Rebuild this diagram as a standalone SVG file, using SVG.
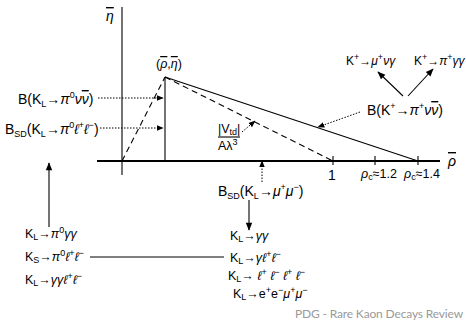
<svg xmlns="http://www.w3.org/2000/svg" width="466" height="324" viewBox="0 0 466 324">
<defs>
<marker id="ah" viewBox="0 0 10 10" refX="9" refY="5" markerWidth="7" markerHeight="7" orient="auto" markerUnits="userSpaceOnUse"><path d="M0,1 L10,5 L0,9 Z" fill="#000"/></marker>
<marker id="ahs" viewBox="0 0 10 10" refX="9" refY="5" markerWidth="10" markerHeight="8" orient="auto" markerUnits="userSpaceOnUse"><path d="M0,1 L10,5 L0,9 Z" fill="#000"/></marker>
</defs>
<style>
text{font-family:"Liberation Sans",Arial,sans-serif;fill:#000}
.l{font-size:14px}
.s{font-size:12.5px}
.k{font-size:12px}
.g{font-style:italic}
.sm{font-size:9px}
.ov{text-decoration:overline}
.ln{stroke:#000;fill:none;stroke-width:1.1}
.dot{stroke:#000;fill:none;stroke-width:1;stroke-dasharray:1.5 1.5}
.dash{stroke:#000;fill:none;stroke-width:1.1;stroke-dasharray:6 4}
.wm{font-family:"Lato","Liberation Sans",sans-serif;font-size:12px;letter-spacing:-0.15px;fill:#9a9a9a}
</style>
<g id="connectors">
<line class="ln" x1="122" y1="7" x2="122" y2="175"/>
<line x1="97" y1="161" x2="440" y2="161" stroke="#000" stroke-width="2.2"/>
<line class="ln" x1="333" y1="156" x2="333" y2="165"/>
<line class="ln" x1="375" y1="156" x2="375" y2="165"/>
<line class="ln" x1="418" y1="156" x2="418" y2="165"/>
<line class="ln" x1="165" y1="77" x2="165" y2="161"/>
<line class="dash" x1="122" y1="161" x2="165" y2="77"/>
<line class="dash" x1="165" y1="77" x2="333" y2="161"/>
<line class="ln" x1="165" y1="77" x2="418" y2="161"/>
<line class="dot" x1="98" y1="98" x2="163" y2="98" marker-end="url(#ah)"/>
<line class="dot" x1="100" y1="128" x2="163" y2="128" marker-end="url(#ah)"/>
<line class="dot" x1="360" y1="112" x2="318" y2="127" marker-end="url(#ah)"/>
<line class="dot" x1="242" y1="132" x2="255" y2="121" marker-end="url(#ah)"/>
<line class="dot" x1="262" y1="182" x2="262" y2="161" marker-end="url(#ah)"/>
<line class="ln" x1="49" y1="227" x2="49" y2="163" marker-end="url(#ahs)"/>
<line class="ln" x1="249" y1="200" x2="249" y2="230" marker-end="url(#ahs)"/>
<line class="ln" x1="403" y1="96" x2="378" y2="72" marker-end="url(#ahs)"/>
<line class="ln" x1="408" y1="96" x2="433" y2="69" marker-end="url(#ahs)"/>
<line class="ln" x1="90" y1="257" x2="224" y2="257"/>
</g>
<g id="axis-labels">
<text class="l g" x="106" y="21"><tspan class="ov">η</tspan></text>
<text class="l g" x="448" y="166"><tspan class="ov">ρ</tspan></text>
<text class="l" x="328" y="180">1</text>
<text class="s" x="361" y="178"><tspan class="g">ρ</tspan><tspan class="sm" dy="2">c</tspan><tspan dy="-2">≈1.2</tspan></text>
<text class="s" x="404" y="178"><tspan class="g">ρ</tspan><tspan class="sm" dy="2">c</tspan><tspan dy="-2">≈1.4</tspan></text>
<text class="s" x="156" y="68">(<tspan class="g ov">ρ</tspan>,<tspan class="g ov">η</tspan>)</text>
</g>
<g id="n-vtd">
<text class="s" x="218" y="133">|V<tspan class="sm" dy="2">td</tspan><tspan dy="-2">|</tspan></text>
<line class="ln" x1="218" y1="137" x2="240" y2="137"/>
<text class="s" x="218" y="150">Aλ<tspan class="sm" dy="-5">3</tspan></text>
</g>
<g id="n-klpinunu">
<text class="l" x="18" y="104">B(K<tspan class="sm" dy="3">L</tspan><tspan dy="-3">→</tspan><tspan class="g">π</tspan><tspan class="sm" dy="-6">0</tspan><tspan class="g" dy="6">ν</tspan><tspan class="g ov">ν</tspan>)</text>
</g>
<g id="n-klpill">
<text class="l" x="5" y="134">B<tspan class="sm" dy="3">SD</tspan><tspan dy="-3">(K</tspan><tspan class="sm" dy="3">L</tspan><tspan dy="-3">→</tspan><tspan class="g">π</tspan><tspan class="sm" dy="-6">0</tspan><tspan class="g" dy="6">ℓ</tspan><tspan class="sm" dy="-6">+</tspan><tspan class="g" dy="6">ℓ</tspan><tspan class="sm" dy="-6">−</tspan><tspan dy="6">)</tspan></text>
</g>
<g id="n-kpinunu">
<text class="l" x="367" y="115">B(K<tspan class="sm" dy="-6">+</tspan><tspan dy="6">→</tspan><tspan class="g">π</tspan><tspan class="sm" dy="-6">+</tspan><tspan class="g" dy="6">ν</tspan><tspan class="g ov">ν</tspan>)</text>
</g>
<g id="n-kmunug">
<text class="k" x="346" y="65">K<tspan class="sm" dy="-5">+</tspan><tspan dy="5">→</tspan><tspan class="g">μ</tspan><tspan class="sm" dy="-5">+</tspan><tspan class="g" dy="5">νγ</tspan></text>
</g>
<g id="n-kpigg">
<text class="k" x="414" y="65">K<tspan class="sm" dy="-5">+</tspan><tspan dy="5">→</tspan><tspan class="g">π</tspan><tspan class="sm" dy="-5">+</tspan><tspan class="g" dy="5">γγ</tspan></text>
</g>
<g id="n-klmumu">
<text class="l" x="218" y="196">B<tspan class="sm" dy="3">SD</tspan><tspan dy="-3">(K</tspan><tspan class="sm" dy="3">L</tspan><tspan dy="-3">→</tspan><tspan class="g">μ</tspan><tspan class="sm" dy="-6">+</tspan><tspan class="g" dy="6">μ</tspan><tspan class="sm" dy="-6">−</tspan><tspan dy="6">)</tspan></text>
</g>
<g id="n-left-list">
<text class="s" x="25" y="238">K<tspan class="sm" dy="2">L</tspan><tspan dy="-2">→</tspan><tspan class="g">π</tspan><tspan class="sm" dy="-5">0</tspan><tspan class="g" dy="5">γγ</tspan></text>
<text class="s" x="25" y="261">K<tspan class="sm" dy="2">S</tspan><tspan dy="-2">→</tspan><tspan class="g">π</tspan><tspan class="sm" dy="-5">0</tspan><tspan class="g" dy="5">ℓ</tspan><tspan class="sm" dy="-5">+</tspan><tspan class="g" dy="5">ℓ</tspan><tspan class="sm" dy="-5">−</tspan></text>
<text class="s" x="25" y="284">K<tspan class="sm" dy="2">L</tspan><tspan dy="-2">→</tspan><tspan class="g">γγℓ</tspan><tspan class="sm" dy="-5">+</tspan><tspan class="g" dy="5">ℓ</tspan><tspan class="sm" dy="-5">−</tspan></text>
</g>
<g id="n-right-list">
<text class="s" x="230" y="240">K<tspan class="sm" dy="2">L</tspan><tspan dy="-2">→</tspan><tspan class="g">γγ</tspan></text>
<text class="s" x="230" y="262">K<tspan class="sm" dy="2">L</tspan><tspan dy="-2">→</tspan><tspan class="g">γℓ</tspan><tspan class="sm" dy="-5">+</tspan><tspan class="g" dy="5">ℓ</tspan><tspan class="sm" dy="-5">−</tspan></text>
<text class="s" x="228" y="280">K<tspan class="sm" dy="2">L</tspan><tspan dy="-2">→ </tspan><tspan class="g">ℓ</tspan><tspan class="sm" dy="-5">+</tspan><tspan class="g" dy="5"> ℓ</tspan><tspan class="sm" dy="-5">−</tspan><tspan class="g" dy="5"> ℓ</tspan><tspan class="sm" dy="-5">+</tspan><tspan class="g" dy="5"> ℓ</tspan><tspan class="sm" dy="-5">−</tspan></text>
<text class="s" x="233" y="298">K<tspan class="sm" dy="2">L</tspan><tspan dy="-2">→e</tspan><tspan class="sm" dy="-5">+</tspan><tspan dy="5">e</tspan><tspan class="sm" dy="-5">−</tspan><tspan class="g" dy="5">μ</tspan><tspan class="sm" dy="-5">+</tspan><tspan class="g" dy="5">μ</tspan><tspan class="sm" dy="-5">−</tspan></text>
</g>
<text class="wm" x="463" y="318" text-anchor="end">PDG - Rare Kaon Decays Review</text>
</svg>
